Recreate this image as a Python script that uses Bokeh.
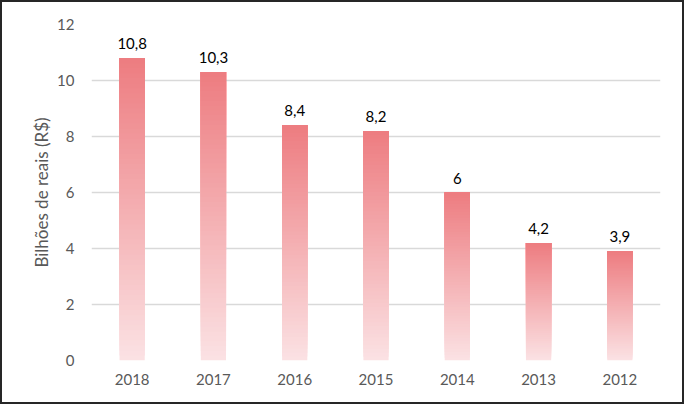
import numpy as np

from bokeh.core.properties import value
from bokeh.embed import file_html
from bokeh.models import ColumnDataSource, FixedTicker
from bokeh.plotting import figure
from bokeh.resources import INLINE

# data
years = ["2018", "2017", "2016", "2015", "2014", "2013", "2012"]
values = [10.8, 10.3, 8.4, 8.2, 6.0, 4.2, 3.9]
labels = ["10,8", "10,3", "8,4", "8,2", "6", "4,2", "3,9"]
y_ticks = [0, 2, 4, 6, 8, 10, 12]

FONT = "Lato"
TOP_RGB = (237, 124, 128)
BOTTOM_RGB = (251, 226, 228)
N_SLICES = 60


def mix(t):
    r, g, b = [int(round(b0 + (t0 - b0) * t)) for t0, b0 in zip(TOP_RGB, BOTTOM_RGB)]
    return "#%02x%02x%02x" % (r, g, b)


p = figure(
    x_range=years, y_range=(0, 12),
    width=684, height=404,
    output_backend="svg", toolbar_location=None,
    min_border_left=89, min_border_right=26, min_border_top=22, min_border_bottom=46,
)
p.styles = {"border": "2px solid #262626", "box-sizing": "border-box"}
p.outline_line_color = None
p.background_fill_color = "white"
p.border_fill_color = "white"

# gradient bars: stacked slices, each from its own bottom up to the bar top
xs, bottoms, tops, colors = [], [], [], []
for yr, v in zip(years, values):
    for i in range(N_SLICES):
        xs.append(yr)
        bottoms.append(v * i / N_SLICES)
        tops.append(v)
        colors.append(mix((i + 0.5) / N_SLICES))
bars = ColumnDataSource(data=dict(x=xs, bottom=bottoms, top=tops, color=colors))
p.vbar(x="x", bottom="bottom", top="top", width=0.31, fill_color="color",
       line_color=None, source=bars)

# data labels
lab = ColumnDataSource(data=dict(x=years, y=values, text=labels))
p.text(x="x", y="y", text="text", source=lab, y_offset=-9,
       text_align="center", text_baseline="bottom",
       text_font=value(FONT), text_font_size="15px", text_color="#000000")

# grid
p.xgrid.grid_line_color = None
p.ygrid.grid_line_color = "#d9d9d9"
p.ygrid.grid_line_width = 1.5
p.ygrid.ticker = FixedTicker(ticks=y_ticks)

# axes
p.yaxis.ticker = FixedTicker(ticks=y_ticks)
p.yaxis.axis_label = "Bilhões de reais (R$)"
p.yaxis.axis_label_text_font = FONT
p.yaxis.axis_label_text_font_size = "17px"
p.yaxis.axis_label_text_font_style = "normal"
p.yaxis.axis_label_text_color = "#595959"
p.yaxis.axis_label_standoff = 2
for ax in (p.xaxis[0], p.yaxis[0]):
    ax.axis_line_color = None
    ax.major_tick_line_color = None
    ax.minor_tick_line_color = None
    ax.major_tick_in = 0
    ax.major_tick_out = 0
    ax.major_label_text_font = FONT
    ax.major_label_text_font_size = "15px"
    ax.major_label_text_color = "#595959"
p.yaxis.major_label_standoff = 17
p.xaxis.major_label_standoff = 13

open("out.html", "w").write(file_html(p, INLINE))
